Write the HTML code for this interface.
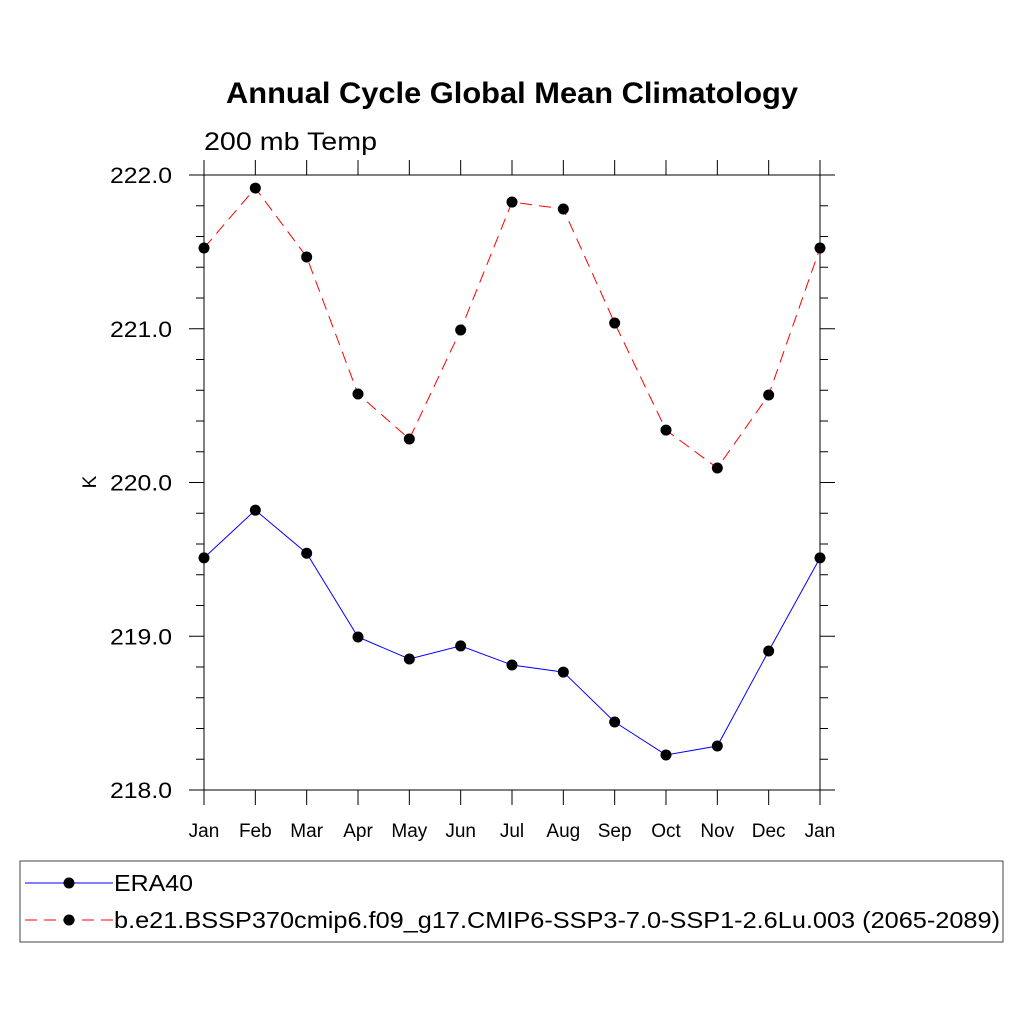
<!DOCTYPE html>
<html><head><meta charset="utf-8"><style>body{margin:0;background:#fff}svg text{font-family:"Liberation Sans",sans-serif}</style></head>
<body>
<svg width="1024" height="1024" xmlns="http://www.w3.org/2000/svg">
<text x="226" y="103" font-size="30" font-weight="bold" textLength="572" lengthAdjust="spacingAndGlyphs">Annual Cycle Global Mean Climatology</text>
<text x="204" y="150" font-size="25" textLength="173" lengthAdjust="spacingAndGlyphs">200 mb Temp</text>
<text x="96" y="482" font-size="19" text-anchor="middle" transform="rotate(-90 96 482)">K</text>
<g id="axes"></g>
<g id="series"></g>
<rect x="20" y="861" width="983" height="81" fill="none" stroke="#444" stroke-width="1"/>
<g>
<line x1="25" y1="883" x2="113" y2="883" stroke="#0000ff" stroke-width="1"/>
<circle cx="69" cy="883" r="5.5" fill="#000"/>
<text x="114" y="891" font-size="23" textLength="79" lengthAdjust="spacingAndGlyphs">ERA40</text></g>
<g>
<line x1="25" y1="920" x2="113" y2="920" stroke="#ff0000" stroke-width="1" stroke-dasharray="12,7"/>
<circle cx="69" cy="920" r="5.5" fill="#000"/>
<text x="114" y="928" font-size="23" textLength="886" lengthAdjust="spacingAndGlyphs">b.e21.BSSP370cmip6.f09_g17.CMIP6-SSP3-7.0-SSP1-2.6Lu.003 (2065-2089)</text></g>
</svg>
<script>
const months=["Jan","Feb","Mar","Apr","May","Jun","Jul","Aug","Sep","Oct","Nov","Dec","Jan"];
const yTicks=[218,219,220,221,222];
const yTickLabels=["218.0","219.0","220.0","221.0","222.0"];
const era40=[219.51,219.82,219.54,218.995,218.852,218.937,218.813,218.767,218.442,218.228,218.286,218.904,219.51];
const cmip6=[221.525,221.915,221.467,220.576,220.283,220.992,221.824,221.779,221.037,220.341,220.094,220.569,221.525];
const X0=204,X1=820,Y0=790,Y1=175,YMIN=218,YMAX=222;
const xs=i=>X0+(X1-X0)*i/(months.length-1);
const ys=v=>Y0-(Y0-Y1)*(v-YMIN)/(YMAX-YMIN);
const NS="http://www.w3.org/2000/svg";
function mk(t,a,p){const e=document.createElementNS(NS,t);for(const k in a)e.setAttribute(k,a[k]);p.appendChild(e);return e;}
const ax=document.getElementById('axes');
const frame=mk('rect',{x:X0,y:Y1,width:X1-X0,height:Y0-Y1,fill:'none',stroke:'#000','stroke-width':1},ax);


for(let i=0;i<months.length;i++){const x=xs(i);
mk('line',{x1:x,y1:Y0,x2:x,y2:Y0+15,stroke:'#000'},ax);
mk('line',{x1:x,y1:Y1,x2:x,y2:Y1-15,stroke:'#000'},ax);
const t=mk('text',{x:x,y:Y0+47,'text-anchor':'middle','font-size':19},ax);t.textContent=months[i];

}
for(let v=YMIN;v<=YMAX+1e-6;v+=0.2){const y=ys(v);const maj=Math.abs(v-Math.round(v))<1e-6;const L=maj?15:8;
mk('line',{x1:X0,y1:y,x2:X0-L,y2:y,stroke:'#000'},ax);
mk('line',{x1:X1,y1:y,x2:X1+L,y2:y,stroke:'#000'},ax);}
yTicks.forEach((v,i)=>{const t=mk('text',{x:172,y:ys(v)+8,'text-anchor':'end','font-size':22,textLength:62,lengthAdjust:'spacingAndGlyphs'},ax);t.textContent=yTickLabels[i];

});
const sg=document.getElementById('series');
function draw(vals,color,dash,name){
const pl=mk('polyline',{points:vals.map((v,i)=>xs(i)+','+ys(v)).join(' '),fill:'none',stroke:color,'stroke-width':1,'stroke-dasharray':dash},sg);


vals.forEach((v,i)=>{const c=mk('circle',{cx:xs(i),cy:ys(v),r:5.5,fill:'#000'},sg);

});}
draw(cmip6,'#ff0000','12,7','cmip6');
draw(era40,'#0000ff','none','era40');
</script>
</body></html>
